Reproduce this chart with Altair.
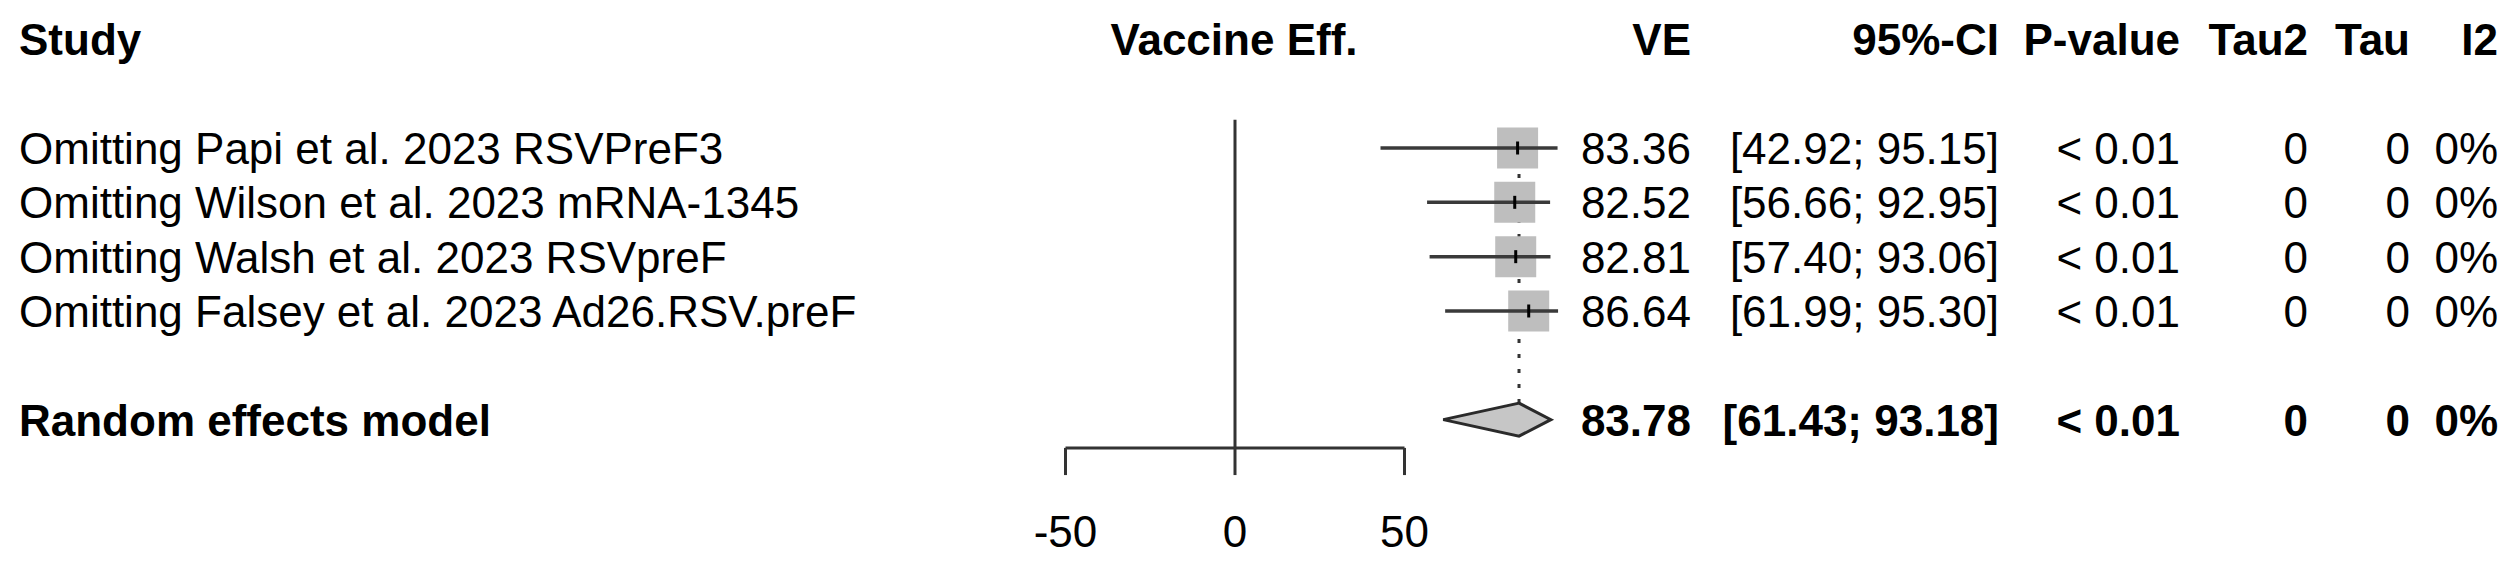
import altair as alt
import pandas as pd

# ---------------- data ----------------
studies = [
    "Omitting Papi et al. 2023 RSVPreF3",
    "Omitting Wilson et al. 2023 mRNA-1345",
    "Omitting Walsh et al. 2023 RSVpreF",
    "Omitting Falsey et al. 2023 Ad26.RSV.preF",
]
ve = [83.36, 82.52, 82.81, 86.64]
ci_lower = [42.92, 56.66, 57.40, 61.99]
ci_upper = [95.15, 92.95, 93.06, 95.30]
p_values = ["< 0.01", "< 0.01", "< 0.01", "< 0.01"]
tau2 = ["0", "0", "0", "0"]
tau = ["0", "0", "0", "0"]
i2 = ["0%", "0%", "0%", "0%"]

summary_label = "Random effects model"
summary_ve = 83.78
summary_lower = 61.43
summary_upper = 93.18
summary_p = "< 0.01"
summary_tau2 = "0"
summary_tau = "0"
summary_i2 = "0%"

headers = ["Study", "Vaccine Eff.", "VE", "95%-CI", "P-value", "Tau2", "Tau", "I2"]
axis_ticks = [-50, 0, 50]
null_value = 0

# ---------------- layout / style ----------------
FONT = "Liberation Sans"
FS = 44
W, H = 2500, 548
X0 = 1227.0      # pixel of VE = 0
PPU = 3.39       # pixels per VE unit
Y1 = 140.0       # pixel of first study row
ROWH = 54.33     # pixels per row
study_rows = [1, 2, 3, 4]
summary_row = 6
header_row = -1
axis_row = 6.52
tick_end_row = 7.02
tick_label_row = 8.05
ref_top_row = 0.48
dotted_top_row = 0.65
diamond_half = 16.5 / ROWH
SQUARE_SIZE = 41 * 41

xs = alt.Scale(domain=[-X0 / PPU, (W - X0) / PPU], nice=False, zero=False)
ys = alt.Scale(domain=[1 - Y1 / ROWH, 1 + (H - Y1) / ROWH], nice=False, zero=False, reverse=True)

def X(f):
    return alt.X(f, type="quantitative", scale=xs, axis=None)

def Y(f):
    return alt.Y(f, type="quantitative", scale=ys, axis=None)

# ---------------- tables ----------------
study_df = pd.DataFrame({
    "label": studies,
    "row": study_rows,
    "ve": ve,
    "lower": ci_lower,
    "upper": ci_upper,
    "ve_txt": [f"{v:.2f}" for v in ve],
    "ci_txt": [f"[{l:.2f}; {u:.2f}]" for l, u in zip(ci_lower, ci_upper)],
    "p": p_values,
    "tau2": tau2,
    "tau": tau,
    "i2": i2,
})
summary_df = pd.DataFrame({
    "label": [summary_label],
    "row": [summary_row],
    "ve": [summary_ve],
    "ve_txt": [f"{summary_ve:.2f}"],
    "ci_txt": [f"[{summary_lower:.2f}; {summary_upper:.2f}]"],
    "p": [summary_p],
    "tau2": [summary_tau2],
    "tau": [summary_tau],
    "i2": [summary_i2],
})
header_df = pd.DataFrame({"h": headers, "row": [header_row] * len(headers)})
tick_df = pd.DataFrame({"t": axis_ticks, "y": axis_row, "y2": tick_end_row,
                        "ly": tick_label_row, "lab": [str(t) for t in axis_ticks]})
axis_df = pd.DataFrame({"a": [min(axis_ticks)], "b": [max(axis_ticks)], "y": [axis_row]})
ref_df = pd.DataFrame({"x": [null_value], "y": [ref_top_row], "y2": [axis_row]})
dot_df = pd.DataFrame({"x": [summary_ve], "y": [dotted_top_row], "y2": [summary_row - diamond_half]})
dia_df = pd.DataFrame({
    "y": [summary_row - diamond_half, summary_row, summary_row + diamond_half],
    "xa": [summary_ve, summary_lower, summary_ve],
    "xb": [summary_ve, summary_upper, summary_ve],
})

LINE = "#333333"

ref_line = alt.Chart(ref_df).mark_rule(color=LINE, strokeWidth=3).encode(
    x=X("x"), y=Y("y"), y2="y2")
axis_line = alt.Chart(axis_df).mark_rule(color=LINE, strokeWidth=3).encode(
    x=X("a"), x2="b", y=Y("y"))
tick_lines = alt.Chart(tick_df).mark_rule(color=LINE, strokeWidth=3).encode(
    x=X("t"), y=Y("y"), y2="y2")
tick_labels = alt.Chart(tick_df).mark_text(
    font=FONT, fontSize=FS, align="center", baseline="middle", color="black", dy=3
).encode(x=X("t"), y=Y("ly"), text="lab:N")
dotted = alt.Chart(dot_df).mark_rule(color=LINE, strokeWidth=3, strokeDash=[4, 11]).encode(
    x=X("x"), y=Y("y"), y2="y2")
squares = alt.Chart(study_df).mark_square(
    size=SQUARE_SIZE, color="#bebebe", opacity=1, strokeWidth=0
).encode(x=X("ve"), y=Y("row"))
ci_lines = alt.Chart(study_df).mark_rule(color="#3a3a3a", strokeWidth=3.5).encode(
    x=X("lower"), x2="upper", y=Y("row"))
est_ticks = alt.Chart(study_df).mark_tick(
    orient="vertical", size=13, thickness=3, color="black", opacity=1
).encode(x=X("ve"), y=Y("row"))
diamond = alt.Chart(dia_df).mark_area(
    orient="horizontal", interpolate="linear", color="#c6c6c6", opacity=1,
    stroke="#2a2a2a", strokeWidth=3, strokeJoin="miter"
).encode(y=Y("y"), x=X("xa"), x2="xb")

columns = [
    ("label", 11, "left"),
    ("ve_txt", 1683, "right"),
    ("ci_txt", 1991, "right"),
    ("p", 2172, "right"),
    ("tau2", 2300, "right"),
    ("tau", 2402, "right"),
    ("i2", 2490, "right"),
]
header_pos = [(11, "left"), (1226, "center"), (1683, "right"), (1991, "right"),
              (2172, "right"), (2300, "right"), (2402, "right"), (2490, "right")]

text_layers = []
for field, px, align in columns:
    text_layers.append(alt.Chart(study_df).mark_text(
        font=FONT, fontSize=FS, align=align, baseline="middle", color="black", dy=3
    ).encode(x=alt.value(px), y=Y("row"), text=f"{field}:N"))
    text_layers.append(alt.Chart(summary_df).mark_text(
        font=FONT, fontSize=FS, fontWeight="bold", align=align, baseline="middle", color="black", dy=3
    ).encode(x=alt.value(px), y=Y("row"), text=f"{field}:N"))
for i, (px, align) in enumerate(header_pos):
    text_layers.append(alt.Chart(header_df.iloc[[i]]).mark_text(
        font=FONT, fontSize=FS, fontWeight="bold", align=align, baseline="middle", color="black", dy=3
    ).encode(x=alt.value(px), y=Y("row"), text="h:N"))

chart = alt.layer(
    ref_line, axis_line, tick_lines, tick_labels, dotted, squares, ci_lines, est_ticks, diamond,
    *text_layers
).properties(
    width=W, height=H, padding=0, autosize=alt.AutoSizeParams(type="none"),
    background="white"
).configure_view(stroke=None)

chart.save("out.html", embed_options={"renderer": "svg", "actions": False})
